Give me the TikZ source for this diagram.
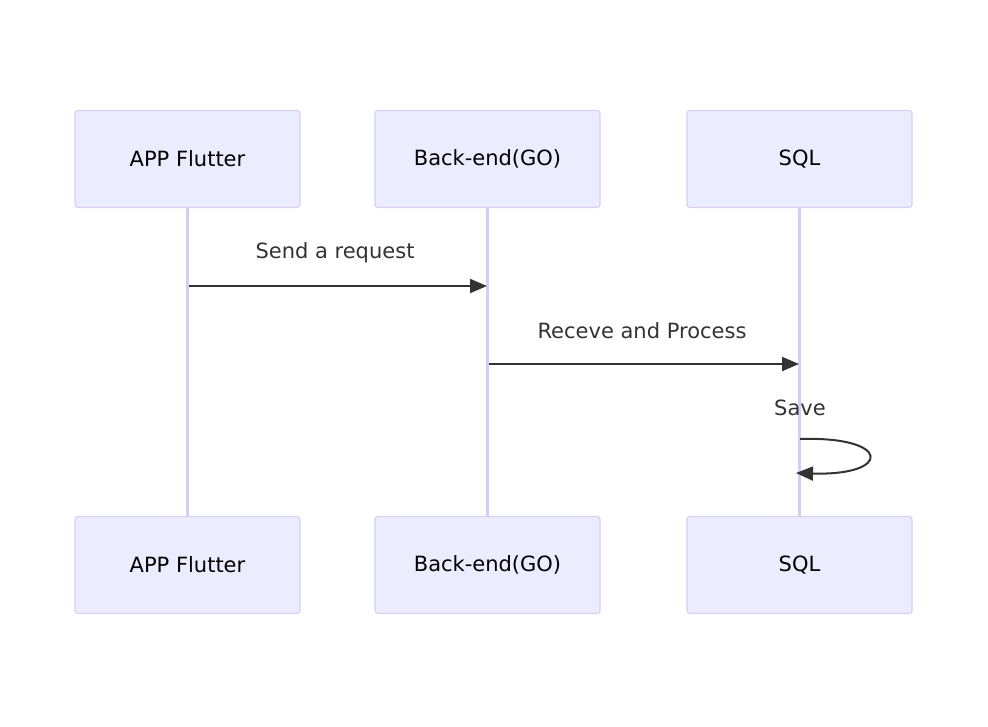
\documentclass[tikz,border=0pt]{standalone}
\usepackage{fontspec}
\setmainfont{DejaVu Sans}
\usetikzlibrary{arrows.meta}
\definecolor{boxfill}{HTML}{ECECFF}
\definecolor{boxline}{HTML}{D7D0F2}
\definecolor{lifeline}{HTML}{D5CEF2}
\definecolor{ink}{HTML}{333333}
\tikzset{
  actor/.style={draw=boxline, fill=boxfill, line width=1.2pt, rounded corners=3pt,
    minimum width=225pt, minimum height=97pt, inner sep=0pt,
    font=\fontsize{21}{25}\selectfont, text=black},
  msg/.style={font=\fontsize{21}{25}\selectfont, text=ink, inner sep=0pt},
}
\begin{document}
\begin{tikzpicture}[x=1pt, y=-1pt, >={Triangle[length=17pt,width=14pt]}, line width=2pt]
\useasboundingbox (0,0) rectangle (988,726);
\node[actor] (app) at (187.5,159){APP Flutter};
\node[actor] (back) at (487.5,159){Back-end(GO)};
\node[actor] (sql) at (799.5,159){SQL};
\node[actor] (appb) at (187.5,565){APP Flutter};
\node[actor] (backb) at (487.5,565){Back-end(GO)};
\node[actor] (sqlb) at (799.5,565){SQL};

\draw[lifeline, line width=2.8pt] (app) -- (appb);
\draw[lifeline, line width=2.8pt] (back) -- (backb);
\draw[lifeline, line width=2.8pt] (sql) -- (sqlb);

\coordinate (m1s) at (189,286);
\coordinate (m1e) at (487,286);
\coordinate (m2s) at (489,364);
\coordinate (m2e) at (799,364);
\coordinate (m3s) at (800,439);
\coordinate (m3e) at (796,473);

\draw[->, ink] (m1s) -- (m1e);
\draw[->, ink] (m2s) -- (m2e);
\draw[->, ink] (m3s) .. controls (892,436) and (892,476) .. (m3e);

\node[msg] (l1) at (335,253){Send a request};
\node[msg] (l2) at (642,331){Receve and Process};
\node[msg] (l3) at (800,408){Save};
\end{tikzpicture}
\end{document}
